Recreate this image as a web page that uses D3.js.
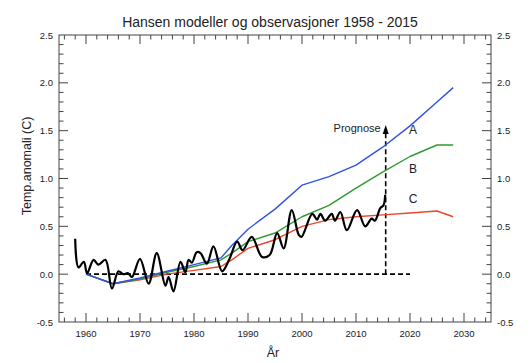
<!DOCTYPE html>
<html>
<head>
<meta charset="utf-8">
<script src="https://cdn.jsdelivr.net/npm/d3@7"></script>
<style>
  body { margin: 0; background: #fff; }
  text { font-family: "Liberation Sans", Arial, Helvetica, sans-serif; fill: #222; }
</style>
</head>
<body>
<svg id="chart" width="530" height="363"></svg>
<script>
// model scenarios (years / temp anomaly)
const modelYears = [1960, 1965, 1970, 1975, 1980, 1985, 1987, 1990, 1995, 2000, 2005, 2010, 2015, 2020, 2025, 2028];
const scenarioA = [0, -0.1, -0.04, 0.03, 0.1, 0.17, 0.3, 0.47, 0.68, 0.93, 1.02, 1.14, 1.33, 1.55, 1.8, 1.95];
const scenarioB = [0, -0.1, -0.05, 0.02, 0.08, 0.15, 0.22, 0.34, 0.43, 0.6, 0.72, 0.9, 1.07, 1.23, 1.35, 1.35];
const scenarioC = [0, -0.1, -0.06, 0.0, 0.04, 0.08, 0.15, 0.27, 0.36, 0.5, 0.57, 0.6, 0.62, 0.64, 0.66, 0.6];

// observations
const obsYears = [1958, 1958.6, 1959.6, 1960.2, 1961.4, 1962.3, 1963.6, 1964.8, 1966, 1966.9, 1967.8, 1968.5, 1970, 1971.6, 1973.1, 1974.7, 1975.3, 1976.2, 1977.5, 1978.4, 1979, 1979.6, 1980.5, 1981.2, 1982.4, 1983.6, 1985.2, 1986.5, 1988, 1989, 1990.7, 1992.6, 1994, 1995.4, 1996.6, 1998.1, 1999.4, 1999.9, 2001.9, 2002.8, 2003.4, 2004.3, 2005.5, 2006.1, 2007.1, 2008.3, 2010.2, 2011.7, 2012.9, 2013.5, 2014.5, 2015.1, 2015.4];
const obsValues = [0.37, 0.07, 0.13, 0.01, 0.15, 0.10, 0.15, -0.15, 0.03, 0.0, 0.01, -0.03, 0.16, -0.1, 0.22, -0.12, -0.03, -0.18, 0.13, 0.02, 0.15, 0.12, 0.23, 0.22, 0.11, 0.29, 0.03, 0.15, 0.34, 0.25, 0.39, 0.18, 0.2, 0.43, 0.27, 0.67, 0.41, 0.39, 0.63, 0.57, 0.63, 0.56, 0.63, 0.56, 0.65, 0.46, 0.67, 0.5, 0.58, 0.56, 0.69, 0.72, 0.83];

const xTicks = [1960, 1970, 1980, 1990, 2000, 2010, 2020, 2030];
const yTicks = [-0.5, 0.0, 0.5, 1.0, 1.5, 2.0, 2.5];

const svg = d3.select("#chart");
const plotLeft = 59, plotRight = 491, plotTop = 35, plotBottom = 322;

const x = d3.scaleLinear().domain([1955, 2035]).range([plotLeft, plotRight]);
const y = d3.scaleLinear().domain([-0.5, 2.5]).range([plotBottom, plotTop]);

// ticks (inward on all four sides)
const g = svg.append("g");
const minorX = d3.range(1956, 2035, 2);
const minorY = d3.range(-0.4, 2.5, 0.1).map(v => Math.round(v * 10) / 10);

minorX.forEach(v => {
  const len = v % 10 === 0 ? 9 : 4.5;
  g.append("line").attr("x1", x(v)).attr("x2", x(v)).attr("y1", plotBottom).attr("y2", plotBottom - len);
  g.append("line").attr("x1", x(v)).attr("x2", x(v)).attr("y1", plotTop).attr("y2", plotTop + len);
});
minorY.forEach(v => {
  const len = Math.abs(v * 2 - Math.round(v * 2)) < 1e-6 ? 9 : 4.5;
  g.append("line").attr("y1", y(v)).attr("y2", y(v)).attr("x1", plotLeft).attr("x2", plotLeft + len);
  g.append("line").attr("y1", y(v)).attr("y2", y(v)).attr("x1", plotRight).attr("x2", plotRight - len);
});
g.selectAll("line").attr("stroke", "#444").attr("stroke-width", 1);

svg.append("rect")
  .attr("x", plotLeft).attr("y", plotTop)
  .attr("width", plotRight - plotLeft).attr("height", plotBottom - plotTop)
  .attr("fill", "none").attr("stroke", "#444").attr("stroke-width", 1);

// tick labels
svg.selectAll(".xl").data(xTicks).enter().append("text")
  .attr("x", d => x(d)).attr("y", 337)
  .attr("text-anchor", "middle").attr("font-size", 9.5)
  .text(d => d);
svg.selectAll(".yl").data(yTicks).enter().append("text")
  .attr("x", 53).attr("y", d => y(d) + 3.5)
  .attr("text-anchor", "end").attr("font-size", 9.5)
  .text(d => d.toFixed(1));
svg.selectAll(".yr").data(yTicks).enter().append("text")
  .attr("x", 497).attr("y", d => y(d) + 3.5)
  .attr("text-anchor", "start").attr("font-size", 9.5)
  .text(d => d.toFixed(1));

// titles
svg.append("text").attr("x", 270).attr("y", 27)
  .attr("text-anchor", "middle").attr("font-size", 14)
  .text("Hansen modeller og observasjoner 1958 - 2015");
svg.append("text").attr("x", 273).attr("y", 357)
  .attr("text-anchor", "middle").attr("font-size", 12.5)
  .text("År");
svg.append("text")
  .attr("transform", "translate(31,166) rotate(-90)")
  .attr("text-anchor", "middle").attr("font-size", 12.5)
  .text("Temp.anomali (C)");

// dashed reference lines
svg.append("line")
  .attr("x1", x(1960)).attr("x2", x(2020)).attr("y1", y(0)).attr("y2", y(0))
  .attr("stroke", "#000").attr("stroke-width", 1.6).attr("stroke-dasharray", "5,3");
svg.append("line")
  .attr("x1", x(2015.5)).attr("x2", x(2015.5)).attr("y1", y(0)).attr("y2", y(1.5))
  .attr("stroke", "#000").attr("stroke-width", 1.6).attr("stroke-dasharray", "5,3");
svg.append("path")
  .attr("d", `M${x(2015.5)},${y(1.56)} l-3,9 l6,0 z`)
  .attr("fill", "#000");
svg.append("text").attr("x", x(2015.5) - 5).attr("y", 132)
  .attr("text-anchor", "end").attr("font-size", 11)
  .text("Prognose");

// model lines
const line = d3.line().x(d => x(d[0])).y(d => y(d[1]));
const series = [
  { vals: scenarioC, color: "#f0442a", label: "C" },
  { vals: scenarioB, color: "#2f9a2f", label: "B" },
  { vals: scenarioA, color: "#2f52e6", label: "A" }
];
series.forEach(s => {
  svg.append("path")
    .datum(modelYears.map((yr, i) => [yr, s.vals[i]]))
    .attr("d", line)
    .attr("fill", "none").attr("stroke", s.color).attr("stroke-width", 1.4)
    .attr("stroke-linejoin", "round");
});
const labelPos = { A: 1.46, B: 1.06, C: 0.74 };
Object.keys(labelPos).forEach(k => {
  svg.append("text").attr("x", 413).attr("y", y(labelPos[k]))
    .attr("text-anchor", "middle").attr("font-size", 12).text(k);
});

// observations
const obsLine = d3.line().x(d => x(d[0])).y(d => y(d[1])).curve(d3.curveCatmullRom.alpha(0.5));
svg.append("path")
  .datum(obsYears.map((yr, i) => [yr, obsValues[i]]))
  .attr("d", obsLine)
  .attr("fill", "none").attr("stroke", "#000").attr("stroke-width", 2.2)
  .attr("stroke-linejoin", "round");
</script>
</body>
</html>
